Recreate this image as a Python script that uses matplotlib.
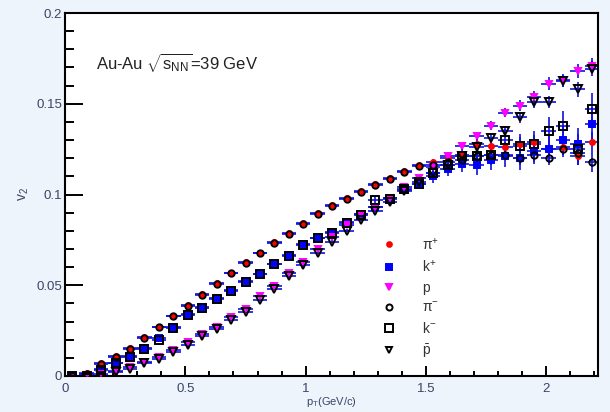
import matplotlib
matplotlib.use("Agg")
import matplotlib.pyplot as plt
from matplotlib.lines import Line2D
from matplotlib.ticker import MultipleLocator

plt.rcParams['font.family'] = ['Liberation Sans', 'DejaVu Sans']
plt.rcParams['mathtext.fontset'] = 'custom'
plt.rcParams['mathtext.rm'] = 'Liberation Sans'
plt.rcParams['mathtext.it'] = 'Liberation Sans:italic'

# pT bin centres (GeV/c)
pt = [0.03, 0.09, 0.15, 0.21, 0.27, 0.33, 0.39, 0.45, 0.51, 0.57, 0.63, 0.69,
      0.75, 0.81, 0.87, 0.93, 0.99, 1.05, 1.11, 1.17, 1.23, 1.29, 1.35, 1.41,
      1.47, 1.53, 1.59, 1.65, 1.71, 1.77, 1.83, 1.89, 1.95, 2.01, 2.07, 2.13, 2.19]

v2_pip = [0.000, 0.0015, 0.007, 0.011, 0.0152, 0.0213, 0.0271, 0.0331, 0.039, 0.045,
          0.051, 0.057, 0.063, 0.068, 0.0738, 0.0788, 0.0845, 0.0897, 0.094, 0.0978,
          0.1018, 0.106, 0.1093, 0.1132, 0.1165, 0.118, 0.120, 0.122, 0.128, 0.127,
          0.126, 0.128, 0.129, 0.125, 0.126, 0.121, 0.129]
v2_pim = [0.000, 0.001, 0.0065, 0.0105, 0.015, 0.021, 0.0268, 0.0328, 0.0385, 0.0445,
          0.0505, 0.0565, 0.0625, 0.0675, 0.0733, 0.0783, 0.084, 0.089, 0.0935, 0.0973,
          0.1013, 0.1055, 0.1088, 0.1125, 0.1158, 0.116, 0.118, 0.119, 0.121, 0.122,
          0.122, 0.120, 0.122, 0.120, 0.125, 0.123, 0.118]
v2_kp = [0.000, 0.0005, 0.004, 0.0073, 0.011, 0.0156, 0.0207, 0.0271, 0.034, 0.038,
         0.043, 0.0476, 0.0524, 0.0564, 0.0619, 0.0665, 0.0725, 0.0762, 0.0793, 0.0848,
         0.089, 0.093, 0.098, 0.1025, 0.106, 0.110, 0.114, 0.117, 0.116, 0.119,
         0.121, 0.120, 0.124, 0.125, 0.130, 0.128, 0.139]
v2_km = [0.000, 0.000, 0.0035, 0.007, 0.0105, 0.015, 0.020, 0.0265, 0.0335, 0.0375,
         0.0425, 0.047, 0.052, 0.056, 0.0615, 0.066, 0.072, 0.0758, 0.079, 0.0845,
         0.0885, 0.0967, 0.0976, 0.1031, 0.1058, 0.112, 0.116, 0.121, 0.121, 0.122,
         0.130, 0.127, 0.128, 0.135, 0.138, 0.125, 0.147]
v2_p = [-0.001, 0.000, 0.001, 0.003, 0.0048, 0.0079, 0.0106, 0.0143, 0.0185, 0.0234,
        0.0271, 0.0326, 0.037, 0.044, 0.0497, 0.057, 0.063, 0.0701, 0.0765, 0.083,
        0.089, 0.093, 0.098, 0.104, 0.109, 0.115, 0.121, 0.1265, 0.132, 0.138,
        0.145, 0.149, 0.154, 0.161, 0.163, 0.168, 0.171]
v2_pbar = [-0.002, -0.001, 0.000, 0.002, 0.004, 0.007, 0.0095, 0.013, 0.017, 0.022,
           0.026, 0.031, 0.0355, 0.042, 0.048, 0.055, 0.061, 0.068, 0.074, 0.080,
           0.086, 0.091, 0.096, 0.102, 0.107, 0.112, 0.116, 0.121, 0.126, 0.131,
           0.135, 0.1425, 0.1507, 0.151, 0.1626, 0.158, 0.1694]

err_pi = [0.0005] * 25 + [0.0015, 0.002, 0.002, 0.0025, 0.003, 0.003, 0.0035,
                          0.004, 0.004, 0.0045, 0.005, 0.0055]
err_k = [0.0008] * 19 + [0.0012, 0.0015, 0.0018, 0.002, 0.0025, 0.003, 0.0035,
                         0.004, 0.0045, 0.005, 0.0055, 0.006, 0.0065, 0.007,
                         0.0075, 0.008, 0.0085, 0.009]
err_p = [0.0008] * 25 + [0.0015, 0.0015, 0.002, 0.002, 0.0025, 0.0025, 0.003,
                         0.003, 0.0035, 0.0035, 0.004, 0.004]
bin_half = 0.03

series = [
    # values, errors, marker, face, edge, size, label
    (v2_pip, err_pi, 'o', 'red', 'red', 3.6, 'π$^{+}$'),
    (v2_kp, err_k, 's', 'blue', 'blue', 4.8, 'k$^{+}$'),
    (v2_p, err_p, 'v', '#ff00ff', '#ff00ff', 5, 'p'),
    (v2_pim, err_pi, 'o', 'none', 'black', 4.6, 'π$^{-}$'),
    (v2_km, err_k, 's', 'none', 'black', 5.8, 'k$^{-}$'),
    (v2_pbar, err_p, 'v', 'none', 'black', 5.2, r'$\bar{\mathrm{p}}$'),
]

fig = plt.figure(figsize=(6.1, 4.12), dpi=100, facecolor='#eef4fb')
ax = fig.add_axes([0.1066, 0.0874, 0.8738, 0.881])
ax.set_facecolor('white')

for vals, errs, *_ in series:
    ax.errorbar(pt, vals, xerr=bin_half, yerr=errs, fmt='none',
                ecolor='#1010e0', elinewidth=1.2, capsize=0, zorder=2)

handles = []
for vals, errs, mk, fc, ec, ms, lab in series:
    ax.plot(pt, vals, ls='none', marker=mk, mfc=fc, mec=ec, ms=ms,
            mew=1.4, zorder=3)
    handles.append(Line2D([], [], ls='none', marker=mk, mfc=fc, mec=ec,
                          ms=ms * 0.95, mew=1.4))

ax.legend(handles, [s[-1] for s in series], loc='upper left',
          bbox_to_anchor=(0.595, 0.385), frameon=False, fontsize=10,
          handlelength=1.0, handletextpad=1.9, labelspacing=0.45,
          borderpad=0, borderaxespad=0, labelcolor='#333333')

ax.text(0.058, 0.865, r'Au-Au $\sqrt{\mathrm{s}_{\mathrm{NN}}}$=39 GeV',
        transform=ax.transAxes, fontsize=12, va='center', ha='left',
        color='#222222')

ax.set_xlim(0, 2.215)
ax.set_ylim(0, 0.2)
ax.set_xticks([0, 0.5, 1, 1.5, 2])
ax.set_xticklabels(['0', '0.5', '1', '1.5', '2'])
ax.set_yticks([0, 0.05, 0.1, 0.15, 0.2])
ax.set_yticklabels(['0', '0.05', '0.1', '0.15', '0.2'])
ax.xaxis.set_minor_locator(MultipleLocator(0.1))
ax.yaxis.set_minor_locator(MultipleLocator(0.01))

ax.tick_params(axis='both', which='both', direction='in', top=False,
               right=False, width=1.4, labelsize=9.5, labelcolor='#3a4466')
ax.tick_params(axis='y', which='major', length=13, pad=2)
ax.tick_params(axis='y', which='minor', length=6.5)
ax.tick_params(axis='x', which='major', length=7, pad=5)
ax.tick_params(axis='x', which='minor', length=3.5)
for sp in ax.spines.values():
    sp.set_linewidth(1.5)

ax.set_xlabel('p$_{\\mathrm{T}}$(GeV/c)', fontsize=8, labelpad=0,
              color='#3a4466')
ax.set_ylabel('v$_{2}$', fontsize=10, labelpad=4, color='#3a4466')

fig.savefig('out.png', dpi=100, facecolor=fig.get_facecolor())
